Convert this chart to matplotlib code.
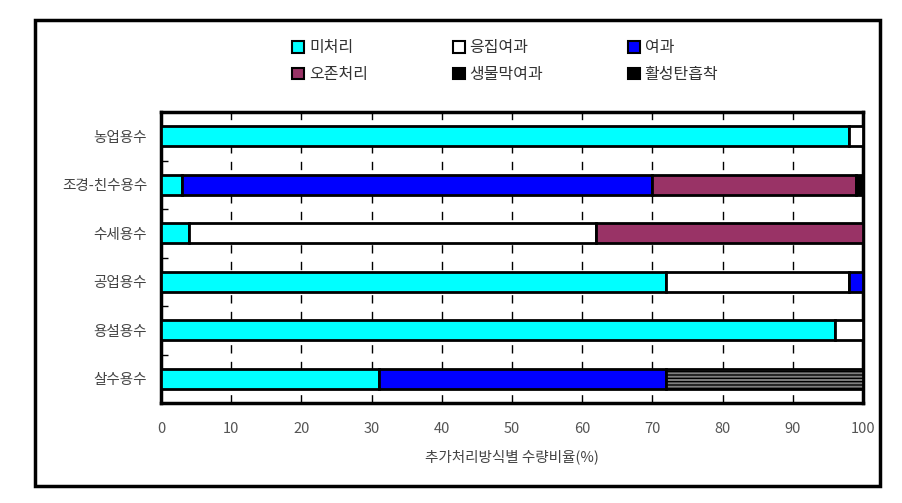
import numpy as np
import matplotlib.pyplot as plt
from matplotlib.patches import Rectangle, Patch

plt.rcParams['font.family'] = ['Noto Sans CJK KR', 'DejaVu Sans']
plt.rcParams['hatch.color'] = '#bbbbbb'

categories = ['농업용수', '조경-친수용수', '수세용수', '공업용수', '용설용수', '살수용수']
methods = ['미처리', '응집여과', '여과', '오존처리', '생물막여과', '활성탄흡착']
values = {
    '미처리':    [98, 3, 4, 72, 96, 31],
    '응집여과':  [2, 0, 58, 26, 4, 0],
    '여과':      [0, 67, 0, 2, 0, 41],
    '오존처리':  [0, 29, 38, 0, 0, 0],
    '생물막여과': [0, 0, 0, 0, 0, 28],
    '활성탄흡착': [0, 1, 0, 0, 0, 0],
}
colors = ['#00ffff', '#ffffff', '#0000ff', '#993366', '#808080', '#000000']
legend_colors = ['#00ffff', '#ffffff', '#0000ff', '#993366', '#000000', '#000000']
hatches = [None, None, None, None, '-----', None]

fig = plt.figure(figsize=(9.03, 5.03), dpi=100)
ax = fig.add_axes([161 / 903, 1 - 403 / 503, 702 / 903, 291 / 503])

y = np.arange(len(categories))
left = np.zeros(len(categories))
for m, c, h in zip(methods, colors, hatches):
    v = np.array(values[m], dtype=float)
    mask = v > 0
    ax.barh(y[mask], v[mask], left=left[mask], height=0.42, color=c,
            edgecolor='black', linewidth=2, hatch=h, zorder=3)
    left += v

ax.set_xlim(0, 100)
ax.set_ylim(5.5, -0.5)
ax.set_xticks(np.arange(0, 101, 10))
ax.set_yticks(y)
ax.set_yticklabels(categories, fontsize=10.5, color='#444444')
ax.set_yticks(np.arange(-0.5, 6, 1), minor=True)
ax.tick_params(axis='y', which='major', length=0, pad=10)
ax.tick_params(axis='y', which='minor', direction='in', length=5, width=1)
ax.tick_params(axis='x', length=0, pad=14, labelsize=10.5, labelcolor='#555555')
for s in ax.spines.values():
    s.set_linewidth(2.5)
ax.grid(axis='x', linestyle=(0, (6, 6)), color='black', linewidth=1, zorder=1)
ax.set_xlabel('추가처리방식별 수량비율(%)', fontsize=10.5, color='#444444', labelpad=9)

# legend fills column by column, so reorder to get rows as in the reference
order = [0, 3, 1, 4, 2, 5]
handles = [Patch(facecolor=legend_colors[i], edgecolor='black', linewidth=1.5) for i in order]
labels = [methods[i] for i in order]
fig.legend(handles, labels, loc='upper left', bbox_to_anchor=(278 / 903, 1 - 25 / 503),
           ncol=3, frameon=False, fontsize=11.5, handlelength=0.75, handleheight=0.75,
           handletextpad=0.3, columnspacing=5.3, labelspacing=0.6, labelcolor='#333333')

fig.patches.append(Rectangle((35 / 903, 1 - 486 / 503), 845 / 903, 466 / 503,
                             transform=fig.transFigure, fill=False,
                             edgecolor='black', linewidth=2.5))

fig.savefig('out.png', dpi=100)
